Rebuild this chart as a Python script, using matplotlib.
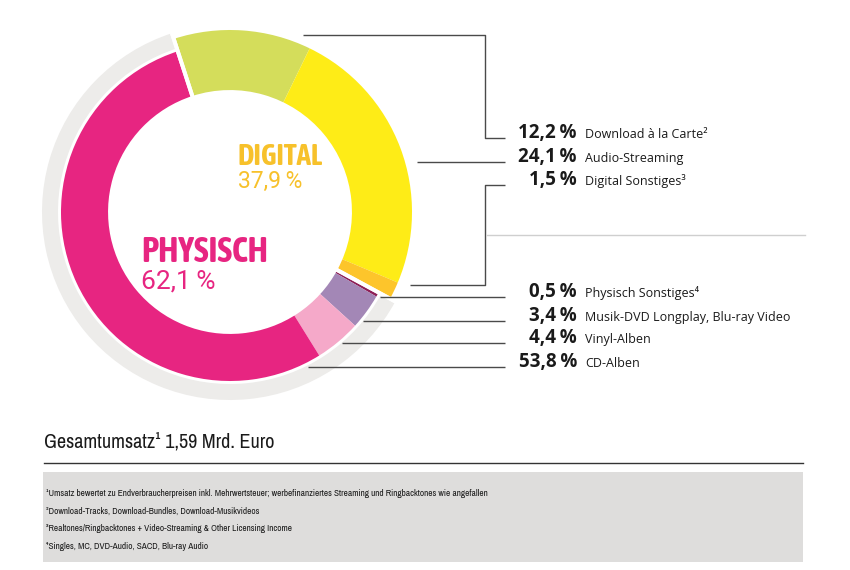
import matplotlib
matplotlib.use('Agg')
import matplotlib.pyplot as plt
from matplotlib import font_manager
from matplotlib.font_manager import FontProperties

# data
digital_labels = ['Download à la Carte²', 'Audio-Streaming', 'Digital Sonstiges³']
digital_values = [12.2, 24.1, 1.5]
physical_labels = ['Physisch Sonstiges⁴', 'Musik-DVD Longplay, Blu-ray Video', 'Vinyl-Alben', 'CD-Alben']
physical_values = [0.5, 3.4, 4.4, 53.8]
digital_total = 37.9
physical_total = 62.1
total_text = 'Gesamtumsatz¹ 1,59 Mrd. Euro'
footnotes = [
    '¹Umsatz bewertet zu Endverbraucherpreisen inkl. Mehrwertsteuer; werbefinanziertes Streaming und Ringbacktones wie angefallen',
    '²Download-Tracks, Download-Bundles, Download-Musikvideos',
    '³Realtones/Ringbacktones + Video-Streaming & Other Licensing Income',
    '⁴Singles, MC, DVD-Audio, SACD, Blu-ray Audio',
]

DIGITAL_COLORS = ['#D4DD5B', '#FEEC17', '#FDC52B']
PHYSICAL_COLORS = ['#8E1F56', '#A387B6', '#F5A9C9', '#E72581']
GOLD = '#F7C12B'
MAGENTA = '#E72581'
RING_GRAY = '#EDECEA'
LINE = '#4A4A4A'
SANS = ['Open Sans', 'DejaVu Sans']


def condensed_font(bold):
    # look for any installed condensed / narrow face, else fall back to Roboto
    found = []
    for f in font_manager.fontManager.ttflist:
        narrow = f.stretch not in ('normal', 500) or 'ondensed' in f.name or 'Narrow' in f.name
        if not narrow or f.style != 'normal':
            continue
        w = f.weight if isinstance(f.weight, int) else font_manager.weight_dict.get(f.weight, 400)
        found.append((abs(w - (700 if bold else 400)), f.name, f.fname))
    if found:
        found.sort()
        return FontProperties(fname=found[0][2])
    return FontProperties(family='Roboto', weight='bold' if bold else 'normal')


COND = condensed_font(False)
COND_BOLD = condensed_font(True)

CX, CY = 230, 212
R_IN = 121
R_DIG = 182
R_PHY = 169
START = -90 - 18  # pixel space, y axis pointing down


def fmt(v):
    return ('%.1f' % v).replace('.', ',') + '\u2009%'


fig = plt.figure(figsize=(8.5, 5.7), dpi=100)
ax = fig.add_axes([0, 0, 1, 1])

# gray backing ring behind the physical part
ax.pie([digital_total, physical_total], colors=['none', RING_GRAY], center=(CX, CY),
       radius=188, startangle=START, counterclock=True,
       wedgeprops=dict(width=16, linewidth=0))

values = digital_values + physical_values
colors = DIGITAL_COLORS + PHYSICAL_COLORS
wedges, _ = ax.pie(values, colors=colors, center=(CX, CY), radius=R_DIG,
                   startangle=START, counterclock=True,
                   wedgeprops=dict(width=R_DIG - R_IN, linewidth=0))
for w in wedges[len(digital_values):]:
    w.set_radius(R_PHY)
    w.set_width(R_PHY - R_IN)

# white gaps between digital and physical
ax.pie([digital_total, physical_total], colors=['none', 'none'], center=(CX, CY),
       radius=196, startangle=START, counterclock=True,
       wedgeprops=dict(width=76, linewidth=2.8, edgecolor='white'))

ax.set_xlim(0, 850)
ax.set_ylim(570, 0)
ax.set_aspect('auto')
ax.axis('off')

# centre labels
ax.text(238, 165, 'DIGITAL', color=GOLD, fontproperties=COND_BOLD, fontsize=21, va='baseline')
ax.text(238, 188, fmt(digital_total), color=GOLD, family='Roboto', fontsize=16.5, va='baseline')
ax.text(141, 262, 'PHYSISCH', color=MAGENTA, fontproperties=COND_BOLD, fontsize=25, va='baseline')
ax.text(141, 289, fmt(physical_total), color=MAGENTA, family='Roboto', fontsize=19, va='baseline')

# right hand labels
dig_y = [138, 162, 185]
phy_y = [297, 321, 343, 367]
for v, lab, y in zip(digital_values + physical_values, digital_labels + physical_labels, dig_y + phy_y):
    ax.text(577, y, fmt(v), fontsize=13.5, fontweight='bold', family=SANS,
            ha='right', va='baseline', color='#1A1A1A')
    ax.text(585, y, lab, fontsize=9, family=SANS, ha='left', va='baseline', color='#1A1A1A')

lkw = dict(color=LINE, linewidth=1.0, solid_capstyle='butt')
ax.plot([303, 485, 485, 505], [35, 35, 138, 138], **lkw)
ax.plot([417, 505], [162, 162], **lkw)
ax.plot([410, 485, 485, 505], [285, 285, 185, 185], **lkw)
ax.plot([380, 505], [297, 297], **lkw)
ax.plot([363, 505], [321, 321], **lkw)
ax.plot([342, 505], [343, 343], **lkw)
ax.plot([308, 505], [367, 367], **lkw)
ax.plot([487, 805], [235, 235], color='#CFCFCF', linewidth=1.0)

# total
ax.text(44, 448, total_text, fontproperties=COND, fontsize=14.5, va='baseline', color='#1A1A1A')
ax.plot([44, 803], [463, 463], color='#333333', linewidth=1.0)

# footnote box
ax.add_patch(plt.Rectangle((43, 472), 760, 90, facecolor='#DEDDDC', edgecolor='none'))
for i, text in enumerate(footnotes):
    ax.text(46, 496 + i * 17.7, text, fontproperties=COND, fontsize=6.7,
            va='baseline', color='#1A1A1A')

fig.savefig('out.png', dpi=100)
